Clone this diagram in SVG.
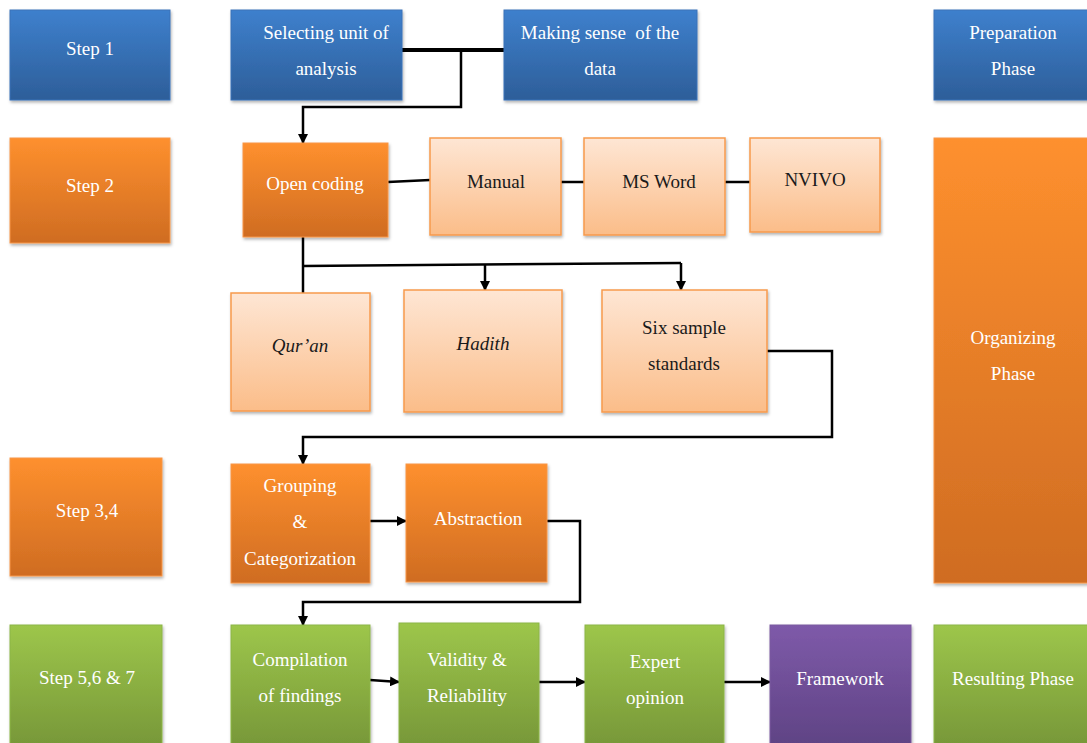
<svg xmlns="http://www.w3.org/2000/svg" width="1087" height="743" viewBox="0 0 1087 743" font-family="'Liberation Serif', 'Times New Roman', 'DejaVu Serif', serif">
<defs>
<linearGradient id="gBlue" x1="0" y1="0" x2="0" y2="1"><stop offset="0" stop-color="#3e80cd"/><stop offset="1" stop-color="#2d5e99"/></linearGradient>
<linearGradient id="gOrange" x1="0" y1="0" x2="0" y2="1"><stop offset="0" stop-color="#fe902e"/><stop offset="1" stop-color="#cf6c22"/></linearGradient>
<linearGradient id="gLight" x1="0" y1="0" x2="0" y2="1"><stop offset="0" stop-color="#fee6d4"/><stop offset="1" stop-color="#fbbd89"/></linearGradient>
<linearGradient id="gGreen" x1="0" y1="0" x2="0" y2="1"><stop offset="0" stop-color="#9dc64b"/><stop offset="1" stop-color="#769638"/></linearGradient>
<linearGradient id="gPurple" x1="0" y1="0" x2="0" y2="1"><stop offset="0" stop-color="#7e5aa9"/><stop offset="1" stop-color="#5e4283"/></linearGradient>
<filter id="sh" x="-10%" y="-10%" width="125%" height="125%"><feDropShadow dx="1" dy="2" stdDeviation="1.5" flood-color="#000" flood-opacity="0.3"/></filter>
<marker id="ah" viewBox="0 0 10 10" refX="9" refY="5" markerWidth="4" markerHeight="4" orient="auto" markerUnits="strokeWidth"><path d="M0,0 L10,5 L0,10 z" fill="#000"/></marker>
</defs>
<style>
.b{fill:url(#gBlue);stroke:#3a72b8;stroke-width:1;filter:url(#sh)}
.o{fill:url(#gOrange);stroke:#f79646;stroke-width:1;filter:url(#sh)}
.l{fill:url(#gLight);stroke:#f79a4c;stroke-width:1.5;filter:url(#sh)}
.g{fill:url(#gGreen);stroke:#8cb546;stroke-width:1;filter:url(#sh)}
.p{fill:url(#gPurple);stroke:#7a5aa0;stroke-width:1;filter:url(#sh)}
text{font-family:'Liberation Serif','Times New Roman','DejaVu Serif',serif;font-size:19px;text-anchor:middle}
.w{fill:#fff}
.k{fill:#1a1a1a}
.i{font-style:italic}
.c{fill:none;stroke:#000;stroke-width:2.5}
.t{fill:none;stroke:#000;stroke-width:4}
.a{marker-end:url(#ah)}
</style>
<g id="connectors">
<path class="t" d="M402,50 H504"/>
<path class="c a" d="M461,50 V107 H303 V143"/>
<path class="c" d="M388,182 L430,180"/>
<path class="c" d="M561,182 H584"/>
<path class="c" d="M725,182 H750"/>
<path class="c" d="M303,237 V293"/>
<path class="c" d="M303,266 L681,263"/>
<path class="c a" d="M485,265 V290"/>
<path class="c a" d="M681,263 V290"/>
<path class="c a" d="M767,351 H832 V437 H303 V464"/>
<path class="c a" d="M370,521 H406"/>
<path class="c a" d="M547,521 H580 V602 H303 V625"/>
<path class="c a" d="M370,680 L399,682"/>
<path class="c a" d="M539,682 H585"/>
<path class="c a" d="M724,682 H770"/>
</g>
<g id="step1"><rect class="b" x="10" y="10" width="160" height="90"/><text class="w" x="90" y="55">Step 1</text></g>
<g id="selecting"><rect class="b" x="231" y="10" width="171" height="90"/><text class="w" x="326" y="39">Selecting unit of</text><text class="w" x="326" y="75">analysis</text></g>
<g id="making"><rect class="b" x="504" y="10" width="193" height="90"/><text class="w" x="600" y="39" xml:space="preserve">Making sense  of the</text><text class="w" x="600" y="75">data</text></g>
<g id="preparation"><rect class="b" x="934" y="10" width="160" height="90"/><text class="w" x="1013" y="39">Preparation</text><text class="w" x="1013" y="75">Phase</text></g>
<g id="step2"><rect class="o" x="10" y="138" width="160" height="105"/><text class="w" x="90" y="192">Step 2</text></g>
<g id="opencoding"><rect class="o" x="243" y="143" width="145" height="94"/><text class="w" x="315" y="190">Open coding</text></g>
<g id="manual"><rect class="l" x="430" y="138" width="131" height="97"/><text class="k" x="496" y="188">Manual</text></g>
<g id="msword"><rect class="l" x="584" y="138" width="141" height="97"/><text class="k" x="659" y="188">MS Word</text></g>
<g id="nvivo"><rect class="l" x="750" y="138" width="130" height="94"/><text class="k" x="815" y="186">NVIVO</text></g>
<g id="organizing"><rect class="o" x="934" y="138" width="160" height="445"/><text class="w" x="1013" y="344">Organizing</text><text class="w" x="1013" y="380">Phase</text></g>
<g id="quran"><rect class="l" x="231" y="293" width="139" height="118"/><text class="k i" x="300" y="352">Qur’an</text></g>
<g id="hadith"><rect class="l" x="404" y="290" width="158" height="122"/><text class="k i" x="483" y="350">Hadith</text></g>
<g id="sixsample"><rect class="l" x="602" y="290" width="165" height="122"/><text class="k" x="684" y="334">Six sample</text><text class="k" x="684" y="370">standards</text></g>
<g id="step34"><rect class="o" x="10" y="458" width="152" height="118"/><text class="w" x="87" y="517">Step 3,4</text></g>
<g id="grouping"><rect class="o" x="231" y="464" width="139" height="119"/><text class="w" x="300" y="492">Grouping</text><text class="w" x="300" y="528">&amp;</text><text class="w" x="300" y="565">Categorization</text></g>
<g id="abstraction"><rect class="o" x="406" y="464" width="141" height="118"/><text class="w" x="478" y="525">Abstraction</text></g>
<g id="step567"><rect class="g" x="10" y="625" width="152" height="125"/><text class="w" x="87" y="684">Step 5,6 &amp; 7</text></g>
<g id="compilation"><rect class="g" x="231" y="625" width="139" height="125"/><text class="w" x="300" y="666">Compilation</text><text class="w" x="300" y="702">of findings</text></g>
<g id="validity"><rect class="g" x="399" y="623" width="140" height="127"/><text class="w" x="467" y="666">Validity &amp;</text><text class="w" x="467" y="702">Reliability</text></g>
<g id="expert"><rect class="g" x="585" y="625" width="139" height="125"/><text class="w" x="655" y="668">Expert</text><text class="w" x="655" y="704">opinion</text></g>
<g id="framework"><rect class="p" x="770" y="625" width="141" height="125"/><text class="w" x="840" y="685">Framework</text></g>
<g id="resulting"><rect class="g" x="934" y="625" width="160" height="125"/><text class="w" x="1013" y="685">Resulting Phase</text></g>
</svg>
